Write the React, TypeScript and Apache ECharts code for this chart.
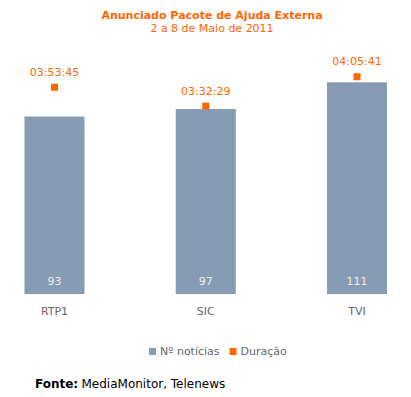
import React, { useEffect, useRef } from "react";
import * as echarts from "echarts";

const categories = ["RTP1", "SIC", "TVI"];
const newsCount = [93, 97, 111];
const durations = ["03:53:45", "03:32:29", "04:05:41"];

const toSeconds = (s: string) => {
  const [h, m, sec] = s.split(":").map(Number);
  return h * 3600 + m * 60 + sec;
};

const FONT = "DejaVu Sans, Verdana, sans-serif";
const ORANGE = "#ff6600";
const BAR = "#879bb4";

export default function App() {
  const ref = useRef<HTMLDivElement>(null);
  useEffect(() => {
    if (!ref.current) return;
    const chart = echarts.init(ref.current, undefined, { renderer: "svg" });
    chart.setOption({
      animation: false,
      backgroundColor: "#ffffff",
      textStyle: { fontFamily: FONT },
      title: {
        text: "Anunciado Pacote de Ajuda Externa",
        subtext: "2 a 8 de Maio de 2011",
        left: 207,
        textAlign: "center",
        top: 5,
        itemGap: 2,
        textStyle: { color: ORANGE, fontSize: 11, fontWeight: "bold", fontFamily: FONT },
        subtextStyle: { color: ORANGE, fontSize: 11, fontFamily: FONT },
      },
      legend: {
        bottom: 35,
        left: 144,
        itemWidth: 7,
        itemHeight: 7,
        itemGap: 10,
        icon: "rect",
        textStyle: { color: "#666666", fontSize: 11, fontFamily: FONT, padding: [0, 0, 0, -1] },
        data: ["Nº notícias", "Duração"],
      },
      grid: { left: 54.5, right: 54, top: 65, bottom: 103 },
      xAxis: {
        type: "category",
        data: categories,
        boundaryGap: false,
        axisLine: { show: false },
        axisTick: { show: false },
        axisLabel: { color: "#666666", fontSize: 11, fontFamily: FONT, margin: 12 },
      },
      yAxis: [
        { type: "value", min: 0, max: 120, show: false, splitLine: { show: false } },
        { type: "value", min: 0, max: 15536, show: false, splitLine: { show: false } },
      ],
      graphic: [
        {
          type: "text",
          left: 35,
          top: 378,
          style: {
            rich: {
              b: { fontWeight: "bold", fontSize: 12, fill: "#000", fontFamily: FONT },
              n: { fontSize: 12, fill: "#000", fontFamily: FONT },
            },
            text: "{b|Fonte:} {n|MediaMonitor, Telenews}",
          },
        },
      ],
      series: [
        {
          name: "Nº notícias",
          type: "bar",
          data: newsCount,
          yAxisIndex: 0,
          barWidth: 60,
          itemStyle: { color: BAR, opacity: 1 },
          label: {
            show: true,
            position: "insideBottom",
            distance: 7,
            color: "#f0f0f0",
            fontSize: 11,
            fontFamily: FONT,
          },
        },
        {
          name: "Duração",
          type: "scatter",
          data: durations.map((d) => toSeconds(d)),
          yAxisIndex: 1,
          symbol: "rect",
          symbolSize: 7,
          itemStyle: { color: ORANGE, opacity: 1 },
          label: {
            show: true,
            position: "top",
            distance: 6,
            color: ORANGE,
            fontSize: 11,
            fontFamily: FONT,
            formatter: (p: any) => durations[p.dataIndex],
          },
        },
      ],
    });
    return () => chart.dispose();
  }, []);
  return <div ref={ref} style={{ width: 411, height: 397, position: "absolute", left: 0, top: 0 }} />;
}
